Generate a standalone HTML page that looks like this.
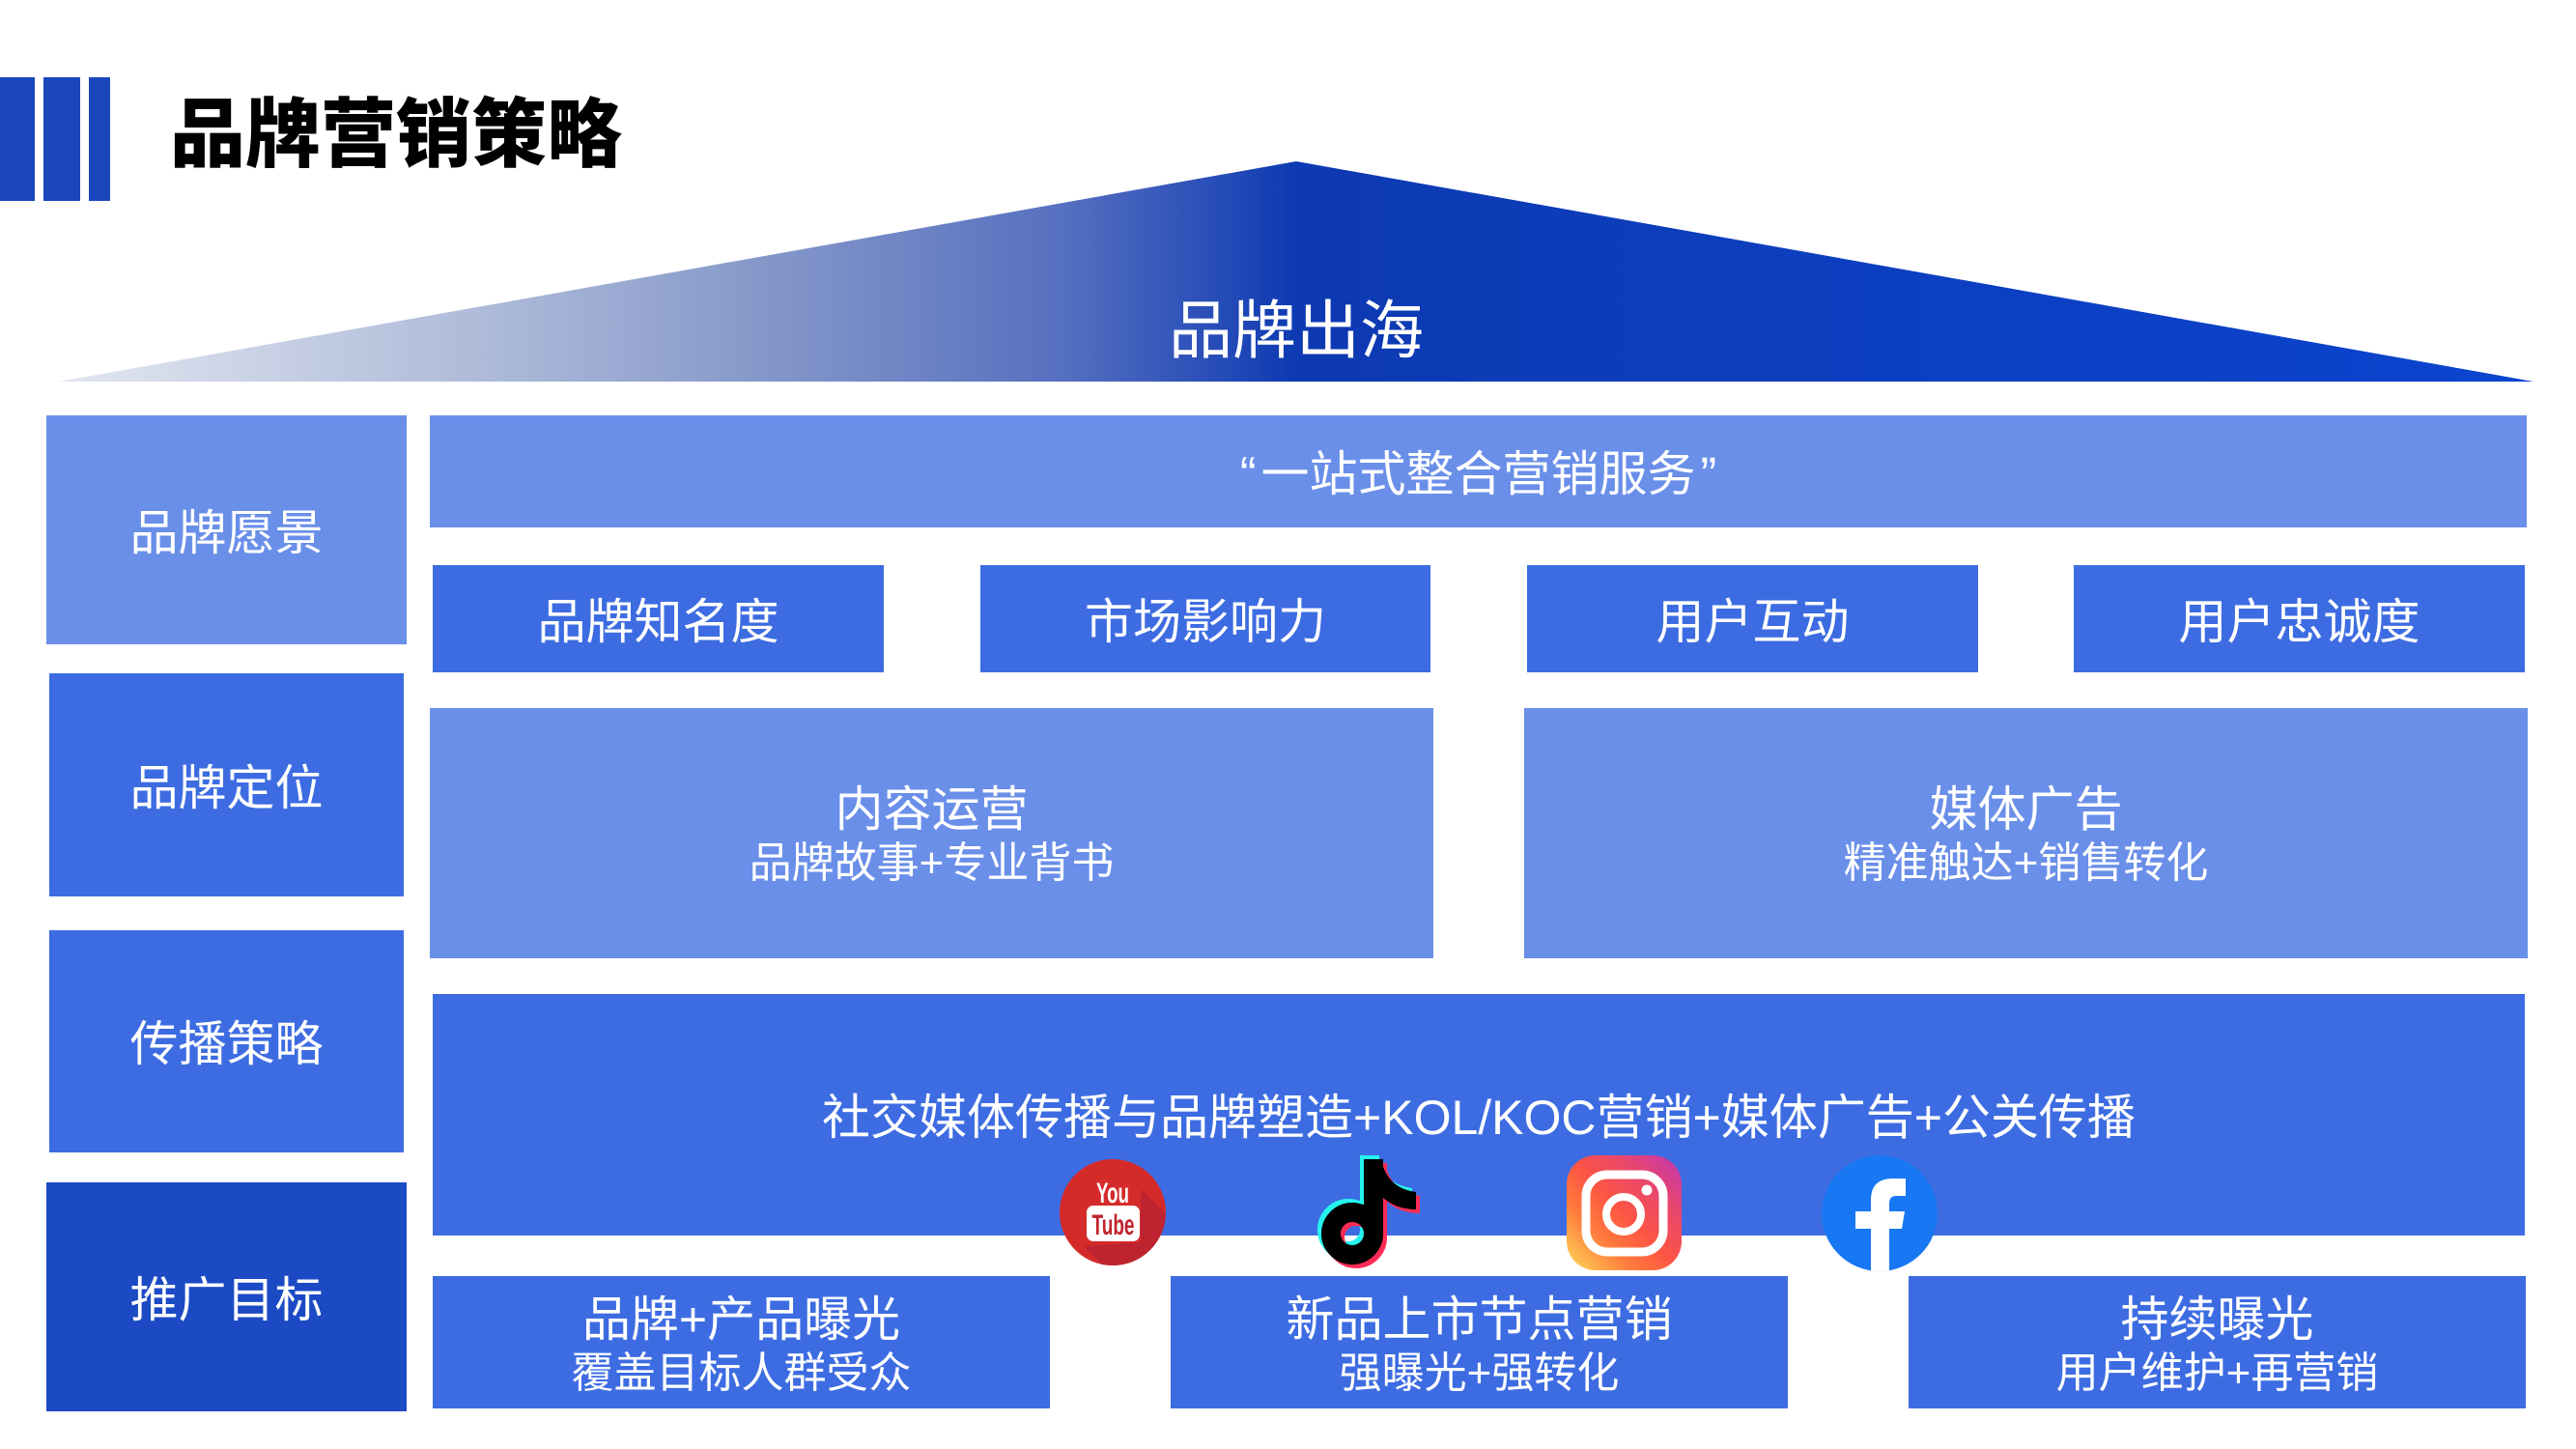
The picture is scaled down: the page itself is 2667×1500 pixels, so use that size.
<!DOCTYPE html>
<html>
<head>
<meta charset="utf-8">
<style>
  html,body{margin:0;padding:0;background:#fff;}
  #c{position:relative;width:2667px;height:1500px;overflow:hidden;background:#fff;
     font-family:"Liberation Sans","Noto Sans CJK SC",sans-serif;}
  .b{position:absolute;display:flex;flex-direction:column;align-items:center;justify-content:center;
     color:#fff;text-align:center;white-space:nowrap;box-sizing:border-box;padding-top:6px;}
  .lt{background:#6a8fe9;}
  .md{background:#3d6ce2;}
  .dk{background:#1b4ac4;}
  .f48{font-size:50px;line-height:56px;}
  .bar{position:absolute;top:80px;height:128px;background:#1b47bd;}
  .q{margin:0 5px;}
</style>
</head>
<body>
<div id="c">
  <!-- header bars -->
  <div class="bar" style="left:0;width:36px;"></div>
  <div class="bar" style="left:45px;width:38px;"></div>
  <div class="bar" style="left:92px;width:22px;"></div>
  <div style="position:absolute;left:176px;top:100px;font-size:78px;line-height:78px;font-weight:900;color:#000;white-space:nowrap;">品牌营销策略</div>

  <!-- triangle -->
  <svg style="position:absolute;left:0;top:0;" width="2667" height="1500" viewBox="0 0 2667 1500">
    <defs>
      <linearGradient id="tg" gradientUnits="userSpaceOnUse" x1="61" y1="0" x2="2623" y2="0">
        <stop offset="0" stop-color="#e2e6f0"/>
        <stop offset="0.185" stop-color="#a9b7d7"/>
        <stop offset="0.29" stop-color="#8396c9"/>
        <stop offset="0.405" stop-color="#5670c0"/>
        <stop offset="0.464" stop-color="#2a4fb8"/>
        <stop offset="0.5" stop-color="#0d3ab2"/>
        <stop offset="1" stop-color="#0b44cf"/>
      </linearGradient>
    </defs>
    <polygon points="61,395 1342,167 2623,395" fill="url(#tg)"/>
  </svg>
  <div class="b" style="left:1092px;top:306px;width:500px;height:72px;font-size:66px;line-height:72px;padding-top:0;">品牌出海</div>

  <!-- left column -->
  <div class="b lt f48" style="left:48px;top:430px;width:373px;height:237px;">品牌愿景</div>
  <div class="b md f48" style="left:51px;top:697px;width:367px;height:231px;">品牌定位</div>
  <div class="b md f48" style="left:51px;top:963px;width:367px;height:230px;">传播策略</div>
  <div class="b dk f48" style="left:48px;top:1224px;width:373px;height:237px;">推广目标</div>

  <!-- top wide -->
  <div class="b lt" style="left:445px;top:430px;width:2171px;height:116px;font-size:50px;line-height:56px;"><span><span class="q">“</span>一站式整合营销服务<span class="q">”</span></span></div>

  <!-- row of four -->
  <div class="b md f48" style="left:448px;top:585px;width:467px;height:111px;">品牌知名度</div>
  <div class="b md f48" style="left:1015px;top:585px;width:466px;height:111px;">市场影响力</div>
  <div class="b md f48" style="left:1581px;top:585px;width:467px;height:111px;">用户互动</div>
  <div class="b md f48" style="left:2147px;top:585px;width:467px;height:111px;">用户忠诚度</div>

  <!-- content boxes -->
  <div class="b lt" style="left:445px;top:733px;width:1039px;height:259px;">
    <div style="font-size:50px;line-height:56px;">内容运营</div>
    <div style="font-size:44px;line-height:56px;">品牌故事+专业背书</div>
  </div>
  <div class="b lt" style="left:1578px;top:733px;width:1039px;height:259px;">
    <div style="font-size:50px;line-height:56px;">媒体广告</div>
    <div style="font-size:44px;line-height:56px;">精准触达+销售转化</div>
  </div>

  <!-- big box -->
  <div class="b md" style="left:448px;top:1029px;width:2166px;height:250px;font-size:50px;line-height:60px;">社交媒体传播与品牌塑造+KOL/KOC营销+媒体广告+公关传播</div>

  <!-- bottom boxes -->
  <div class="b md" style="left:448px;top:1321px;width:639px;height:137px;padding-top:9px;">
    <div style="font-size:50px;line-height:56px;">品牌+产品曝光</div>
    <div style="font-size:44px;line-height:56px;">覆盖目标人群受众</div>
  </div>
  <div class="b md" style="left:1212px;top:1321px;width:639px;height:137px;padding-top:9px;">
    <div style="font-size:50px;line-height:56px;">新品上市节点营销</div>
    <div style="font-size:44px;line-height:56px;">强曝光+强转化</div>
  </div>
  <div class="b md" style="left:1976px;top:1321px;width:639px;height:137px;padding-top:9px;">
    <div style="font-size:50px;line-height:56px;">持续曝光</div>
    <div style="font-size:44px;line-height:56px;">用户维护+再营销</div>
  </div>

  <!-- icons -->
  <svg style="position:absolute;left:0;top:0;" width="2667" height="1500" viewBox="0 0 2667 1500">
    <defs>
      <clipPath id="ytc"><circle cx="1152" cy="1255" r="55"/></clipPath>
      <clipPath id="fbc"><circle cx="1946" cy="1256" r="60"/></clipPath>
      <linearGradient id="ig" x1="0" y1="1" x2="1" y2="0">
        <stop offset="0" stop-color="#ffdb5c"/>
        <stop offset="0.3" stop-color="#ff7a3c"/>
        <stop offset="0.5" stop-color="#fd5444"/>
        <stop offset="0.75" stop-color="#e64670"/>
        <stop offset="1" stop-color="#bf35b5"/>
      </linearGradient>
    </defs>

    <!-- YouTube -->
    <circle cx="1152" cy="1255" r="55" fill="#d52a2a"/>
    <polygon clip-path="url(#ytc)" points="1165,1215 1260,1310 1200,1370 1122,1290 1181,1286 1181,1232" fill="#bd2430"/>
    <text x="1152" y="1245" text-anchor="middle" font-family="Liberation Sans Narrow, Liberation Sans, sans-serif" font-weight="bold" font-size="30" fill="#fff" textLength="34" lengthAdjust="spacingAndGlyphs">You</text>
    <rect x="1125" y="1248" width="55" height="37" rx="7" fill="#fff"/>
    <text x="1152.5" y="1278" text-anchor="middle" font-family="Liberation Sans Narrow, Liberation Sans, sans-serif" font-weight="bold" font-size="30" fill="#c0242f" textLength="44" lengthAdjust="spacingAndGlyphs">Tube</text>

    <!-- TikTok -->
    <g transform="translate(-4,-4)" fill="#25f4ee" stroke="none">
      <circle cx="1400" cy="1277" r="22" fill="none" stroke="#25f4ee" stroke-width="20"/>
      <rect x="1412" y="1200" width="20" height="78"/>
      <path d="M1430 1200 Q1436 1230 1466 1234 L1466 1252 Q1444 1252 1430 1238 Z"/>
    </g>
    <g transform="translate(4,4)" fill="#fe2c55" stroke="none">
      <circle cx="1400" cy="1277" r="22" fill="none" stroke="#fe2c55" stroke-width="20"/>
      <rect x="1412" y="1200" width="20" height="78"/>
      <path d="M1430 1200 Q1436 1230 1466 1234 L1466 1252 Q1444 1252 1430 1238 Z"/>
    </g>
    <g fill="#000" stroke="none">
      <circle cx="1400" cy="1277" r="22" fill="none" stroke="#000" stroke-width="20"/>
      <rect x="1412" y="1200" width="20" height="78"/>
      <path d="M1430 1200 Q1436 1230 1466 1234 L1466 1252 Q1444 1252 1430 1238 Z"/>
    </g>

    <!-- Instagram -->
    <rect x="1622" y="1196" width="119" height="119" rx="30" fill="url(#ig)"/>
    <rect x="1642" y="1216" width="80" height="80" rx="22" fill="none" stroke="#fff" stroke-width="9"/>
    <circle cx="1681" cy="1257" r="18" fill="none" stroke="#fff" stroke-width="8"/>
    <circle cx="1705" cy="1232" r="5.5" fill="#fff"/>

    <!-- Facebook -->
    <circle cx="1946" cy="1256" r="60" fill="#1877f2"/>
    <path clip-path="url(#fbc)" fill="#fff" d="M1937 1320 L1937 1272 L1921 1272 L1921 1254 L1937 1254 L1937 1242 Q1937 1220 1960 1220 L1973 1220 L1973 1238 L1963 1238 Q1956 1238 1956 1246 L1956 1254 L1972 1254 L1969 1272 L1956 1272 L1956 1320 Z"/>
  </svg>
</div>
</body>
</html>
